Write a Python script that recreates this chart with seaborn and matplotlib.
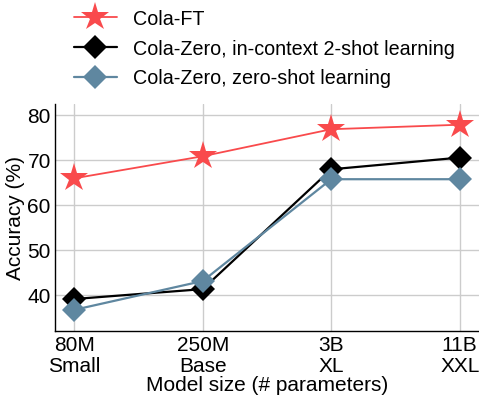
import matplotlib
matplotlib.use("Agg")
import matplotlib.pyplot as plt
import seaborn as sns
import pandas as pd

sizes = ["80M\nSmall", "250M\nBase", "3B\nXL", "11B\nXXL"]
series_names = ["Cola-FT", "Cola-Zero, in-context 2-shot learning", "Cola-Zero, zero-shot learning"]
cola_ft = [65.9, 70.8, 76.8, 77.8]
cola_zero_2shot = [39.1, 41.3, 67.9, 70.5]
cola_zero_0shot = [36.7, 43.1, 65.7, 65.7]
yticks = [40, 50, 60, 70, 80]

sns.set_theme(style="white")
plt.rcParams["font.family"] = ["Liberation Sans", "DejaVu Sans"]
for k in ["text.color", "axes.labelcolor", "xtick.color", "ytick.color"]:
    plt.rcParams[k] = "black"

rows = []
for name, vals in zip(series_names, [cola_ft, cola_zero_2shot, cola_zero_0shot]):
    for i, v in enumerate(vals):
        rows.append({"pos": i, "acc": v, "series": name})
df = pd.DataFrame(rows)

fig = plt.figure(figsize=(4.79, 4.02), dpi=100)
ax = fig.add_axes([55/479, (402-332)/402, 424/479, 227/402])

styles = {
    series_names[0]: dict(color="#F94A4C", marker="*", ms=21, lw=1.3, zorder=3),
    series_names[1]: dict(color="#000000", marker="D", ms=12.5, lw=1.6, zorder=2),
    series_names[2]: dict(color="#5F87A0", marker="D", ms=12.5, lw=1.6, zorder=2.5),
}
for name in series_names:
    st = styles[name]
    sub = df[df["series"] == name]
    sns.lineplot(data=sub, x="pos", y="acc", ax=ax, color=st["color"], marker=st["marker"],
                 markersize=st["ms"], linewidth=st["lw"], markeredgewidth=0,
                 label=name, zorder=st["zorder"], legend=False)

fs = 15
ax.set_xlim(-0.15, 3.15)
ax.set_ylim(32, 82.4)
ax.set_xticks(range(len(sizes)))
ax.set_xticklabels(sizes, fontsize=fs, linespacing=1.15)
ax.set_yticks(yticks)
ax.set_yticklabels([str(t) for t in yticks], fontsize=fs)
ax.tick_params(length=0, pad=3)
ax.grid(True, color="#cccccc", linewidth=1)
ax.set_axisbelow(True)
for s in ["top", "right"]:
    ax.spines[s].set_visible(False)
for s in ["left", "bottom"]:
    ax.spines[s].set_color("black")
    ax.spines[s].set_linewidth(1)
ax.set_xlabel("Model size (# parameters)", fontsize=fs, labelpad=0)
ax.set_ylabel("Accuracy (%)", fontsize=fs, labelpad=2)

handles, labels = ax.get_legend_handles_labels()
fig.legend(handles, labels, loc="upper left", bbox_to_anchor=(0.118, 1.02), frameon=False,
           fontsize=14.2, handlelength=2.15, handletextpad=0.85, labelspacing=0.55)

fig.savefig("out.png", dpi=100)
